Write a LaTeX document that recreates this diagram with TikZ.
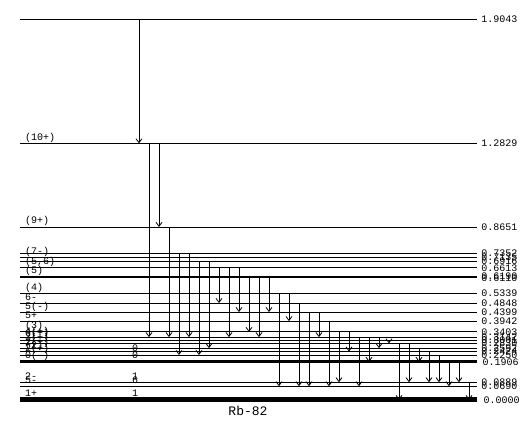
\documentclass[tikz,border=0pt]{standalone}
\usepackage{fontspec}
\setmonofont{Liberation Mono}
\usetikzlibrary{arrows.meta}
\tikzset{
  lvl/.style={line width=0.9pt},
  isolvl/.style={line width=3pt},
  gslvl/.style={line width=5pt},
  gam/.style={line width=0.8pt, -{Straight Barb[length=4pt,width=6pt]}},
  elab/.style={anchor=west, inner sep=0pt, xshift=4pt, font=\ttfamily\fontsize{10}{10}\selectfont},
  jlab/.style={anchor=base west, inner sep=0pt, xshift=5pt, yshift=3pt, font=\ttfamily\fontsize{10}{10}\selectfont},
  mlab/.style={anchor=base, inner sep=0pt, yshift=3pt, font=\ttfamily\fontsize{10}{10}\selectfont}
}
\begin{document}
\begin{tikzpicture}[x=1pt, y=200pt]
    \useasboundingbox (0,-0.11) rectangle (531,2.0);
    % level energies (MeV)
    \coordinate (l1904) at (20,1.9043);
    \coordinate (l1283) at (20,1.2829);
    \coordinate (l865) at (20,0.8651);
    \coordinate (l735) at (20,0.7352);
    \coordinate (l714) at (20,0.7135);
    \coordinate (l692) at (20,0.6916);
    \coordinate (l661) at (20,0.6613);
    \coordinate (l619) at (20,0.6190);
    \coordinate (l611) at (20,0.6110);
    \coordinate (l534) at (20,0.5339);
    \coordinate (l485) at (20,0.4848);
    \coordinate (l440) at (20,0.4399);
    \coordinate (l394) at (20,0.3942);
    \coordinate (l340) at (20,0.3403);
    \coordinate (l314) at (20,0.3142);
    \coordinate (l300) at (20,0.3001);
    \coordinate (l283) at (20,0.2830);
    \coordinate (l259) at (20,0.2592);
    \coordinate (l242) at (20,0.2424);
    \coordinate (l225) at (20,0.2250);
    \coordinate (l191) at (20,0.1906);
    \coordinate (l089) at (20,0.0889);
    \coordinate (l069) at (20,0.0690);
    \coordinate (l000) at (20,0.0000);
    % levels and energy labels
    \draw [lvl] (l1904) -- ++(457,0) node [elab] (e1904) {1.9043};
    \draw [lvl] (l1283) -- ++(457,0) node [elab] (e1283) {1.2829};
    \draw [lvl] (l865) -- ++(457,0) node [elab] (e865) {0.8651};
    \draw [lvl] (l735) -- ++(457,0) node [elab] (e735) {0.7352};
    \draw [lvl] (l714) -- ++(457,0) node [elab] (e714) {0.7135};
    \draw [lvl] (l692) -- ++(457,0) node [elab] (e692) {0.6916};
    \draw [lvl] (l661) -- ++(457,0) node [elab] (e661) {0.6613};
    \draw [lvl] (l619) -- ++(457,0) node [elab] (e619) {0.6190};
    \draw [lvl] (l611) -- ++(457,0) node [elab] (e611) {0.6110};
    \draw [lvl] (l534) -- ++(457,0) node [elab] (e534) {0.5339};
    \draw [lvl] (l485) -- ++(457,0) node [elab] (e485) {0.4848};
    \draw [lvl] (l440) -- ++(457,0) node [elab] (e440) {0.4399};
    \draw [lvl] (l394) -- ++(457,0) node [elab] (e394) {0.3942};
    \draw [lvl] (l340) -- ++(457,0) node [elab] (e340) {0.3403};
    \draw [lvl] (l314) -- ++(457,0) node [elab] (e314) {0.3142};
    \draw [lvl] (l300) -- ++(457,0) node [elab] (e300) {0.3001};
    \draw [lvl] (l283) -- ++(457,0) node [elab] (e283) {0.2830};
    \draw [lvl] (l259) -- ++(457,0) node [elab] (e259) {0.2592};
    \draw [lvl] (l242) -- ++(457,0) node [elab] (e242) {0.2424};
    \draw [lvl] (l225) -- ++(457,0) node [elab] (e225) {0.2250};
    \draw [isolvl] (l191) -- ++(457,0) node [elab] (e191) {0.1906};
    \draw [lvl] (l089) -- ++(457,0) node [elab] (e089) {0.0889};
    \draw [lvl] (l069) -- ++(457,0) node [elab] (e069) {0.0690};
    \draw [gslvl] (l000) -- ++(457,0) node [elab] (e000) {0.0000};
    % spins
    \node [jlab] (j1283) at (l1283) {(10+)};
    \node [jlab] (j865) at (l865) {(9+)};
    \node [jlab] (j714) at (l714) {(7-)};
    \node [jlab] (j661) at (l661) {(5,6)};
    \node [jlab] (j619) at (l619) {(5)};
    \node [jlab] (j534) at (l534) {(4)};
    \node [jlab] (j485) at (l485) {6-};
    \node [jlab] (j440) at (l440) {5(-)};
    \node [jlab] (j394) at (l394) {5+};
    \node [jlab] (j340) at (l340) {(3)};
    \node [jlab] (j314) at (l314) {4(+)};
    \node [jlab] (j300) at (l300) {6(+)};
    \node [jlab] (j283) at (l283) {3(+)};
    \node [jlab] (j259) at (l259) {2(+)};
    \node [jlab] (j242) at (l242) {(2)};
    \node [jlab] (j225) at (l225) {2(+)};
    \node [jlab] (j191) at (l191) {0(-)};
    \node [jlab] (j089) at (l089) {2-};
    \node [jlab] (j069) at (l069) {5-};
    \node [jlab] (j000) at (l000) {1+};
    \node [mlab] (m225) at (135,0 |- l225) {0};
    \node [mlab] (m191) at (135,0 |- l191) {0};
    \node [mlab] (m089) at (135,0 |- l089) {1};
    \node [mlab] (m069) at (135,0 |- l069) {6};
    \node [mlab] (m000) at (135,0 |- l000) {1};
    % transitions
    \draw [gam] (139,0 |- l1904) -- (139,0 |- l1283);
    \draw [gam] (149,0 |- l1283) -- (149,0 |- l314);
    \draw [gam] (159,0 |- l1283) -- (159,0 |- l865);
    \draw [gam] (169,0 |- l865) -- (169,0 |- l314);
    \draw [gam] (179,0 |- l735) -- (179,0 |- l225);
    \draw [gam] (189,0 |- l735) -- (189,0 |- l314);
    \draw [gam] (199,0 |- l692) -- (199,0 |- l225);
    \draw [gam] (209,0 |- l692) -- (209,0 |- l259);
    \draw [gam] (219,0 |- l661) -- (219,0 |- l485);
    \draw [gam] (229,0 |- l661) -- (229,0 |- l314);
    \draw [gam] (239,0 |- l661) -- (239,0 |- l440);
    \draw [gam] (249,0 |- l611) -- (249,0 |- l340);
    \draw [gam] (259,0 |- l611) -- (259,0 |- l314);
    \draw [gam] (269,0 |- l611) -- (269,0 |- l440);
    \draw [gam] (279,0 |- l534) -- (279,0 |- l069);
    \draw [gam] (289,0 |- l534) -- (289,0 |- l394);
    \draw [gam] (299,0 |- l485) -- (299,0 |- l069);
    \draw [gam] (309,0 |- l440) -- (309,0 |- l069);
    \draw [gam] (319,0 |- l440) -- (319,0 |- l314);
    \draw [gam] (329,0 |- l394) -- (329,0 |- l069);
    \draw [gam] (339,0 |- l340) -- (339,0 |- l089);
    \draw [gam] (349,0 |- l340) -- (349,0 |- l242);
    \draw [gam] (359,0 |- l314) -- (359,0 |- l069);
    \draw [gam] (369,0 |- l314) -- (369,0 |- l191);
    \draw [gam] (379,0 |- l314) -- (379,0 |- l259);
    \draw [gam] (389,0 |- l300) -- (389,0 |- l283);
    \draw [gam] (399,0 |- l283) -- (399,0 |- l000);
    \draw [gam] (409,0 |- l283) -- (409,0 |- l089);
    \draw [gam] (419,0 |- l259) -- (419,0 |- l191);
    \draw [gam] (429,0 |- l242) -- (429,0 |- l089);
    \draw [gam] (439,0 |- l225) -- (439,0 |- l089);
    \draw [gam] (449,0 |- l191) -- (449,0 |- l069);
    \draw [gam] (459,0 |- l191) -- (459,0 |- l089);
    \draw [gam] (469,0 |- l089) -- (469,0 |- l000);
    \node [font=\ttfamily\fontsize{13}{13}\selectfont, inner sep=0pt] (title) at (248,-0.055) {Rb-82};
\end{tikzpicture}
\end{document}
